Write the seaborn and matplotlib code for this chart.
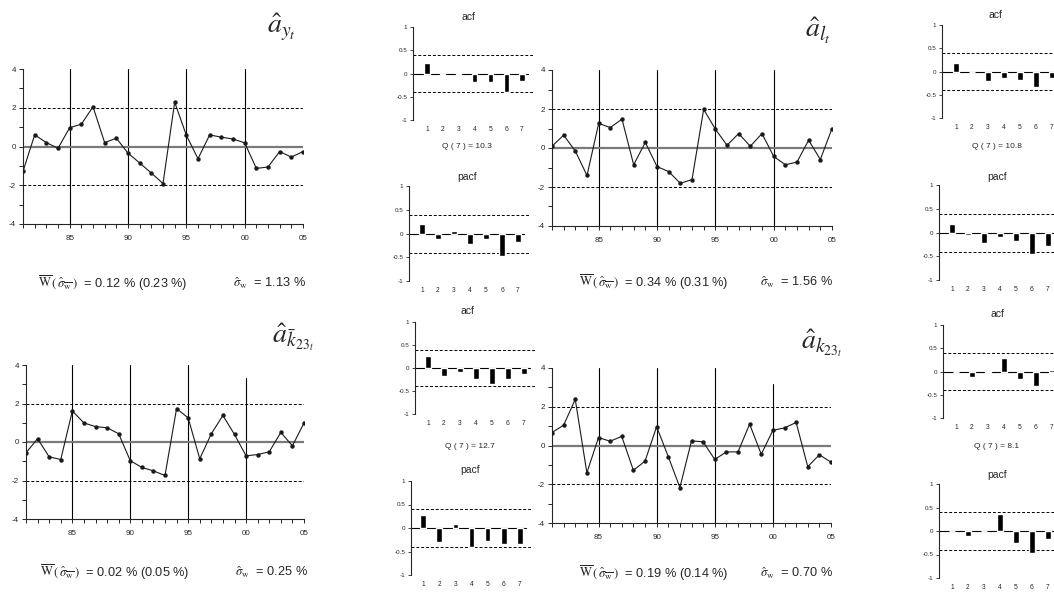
import numpy as np
import pandas as pd
import matplotlib
matplotlib.use("Agg")
import matplotlib.pyplot as plt
import seaborn as sns

# ---- data ----
years = list(range(1981, 2006))

a_y = [-1.28, 0.60, 0.20, -0.09, 0.97, 1.15, 2.05, 0.20, 0.43, -0.34, -0.85, -1.37, -1.91,
       2.29, 0.58, -0.63, 0.60, 0.48, 0.39, 0.19, -1.13, -1.06, -0.26, -0.55, -0.26]
a_l = [0.09, 0.66, -0.16, -1.41, 1.26, 1.05, 1.48, -0.86, 0.29, -0.95, -1.21, -1.81, -1.62,
       1.98, 0.97, 0.14, 0.74, 0.09, 0.74, -0.43, -0.86, -0.72, 0.40, -0.59, 1.00]
a_kbar = [-0.56, 0.17, -0.77, -0.91, 1.61, 0.99, 0.80, 0.74, 0.43, -0.97, -1.32, -1.50, -1.74,
          1.74, 1.25, -0.87, 0.43, 1.38, 0.39, -0.72, -0.65, -0.51, 0.50, -0.20, 0.99]
a_k = [0.67, 1.05, 2.38, -1.41, 0.41, 0.22, 0.47, -1.28, -0.81, 0.97, -0.57, -2.17, 0.24,
       0.19, -0.72, -0.33, -0.33, 1.10, -0.45, 0.78, 0.91, 1.19, -1.09, -0.48, -0.86]

lags = [1, 2, 3, 4, 5, 6, 7]
acf_y = [0.23, -0.03, 0.02, -0.18, -0.18, -0.40, -0.16]
pacf_y = [0.21, -0.11, 0.05, -0.22, -0.12, -0.48, -0.17]
acf_l = [0.18, 0.0, -0.20, -0.15, -0.18, -0.34, -0.14]
pacf_l = [0.17, -0.06, -0.22, -0.10, -0.18, -0.46, -0.29]
acf_kbar = [0.26, -0.17, -0.08, -0.23, -0.35, -0.24, -0.12]
pacf_kbar = [0.28, -0.29, 0.09, -0.41, -0.27, -0.33, -0.33]
acf_k = [0.0, -0.11, 0.02, 0.29, -0.17, -0.31, 0.03]
pacf_k = [0.0, -0.11, 0.0, 0.36, -0.25, -0.46, -0.16]

q_stats = ["Q ( 7 ) = 10.3", "Q ( 7 ) = 10.8", "Q ( 7 ) = 12.7", "Q ( 7 ) = 8.1"]
w_means = ["0.12 % (0.23 %)", "0.34 % (0.31 %)", "0.02 % (0.05 %)", "0.19 % (0.14 %)"]
sigmas = ["1.13 %", "1.56 %", "0.25 %", "0.70 %"]
titles = [r"$\hat{a}_{y_t}$", r"$\hat{a}_{l_t}$",
          r"$\hat{a}_{\bar{k}_{23_t}}$", r"$\hat{a}_{k_{23_t}}$"]

# ---- style ----
sns.set_style("ticks")
plt.rcParams["font.family"] = ["Liberation Sans", "DejaVu Sans"]
plt.rcParams["mathtext.fontset"] = "stix"
plt.rcParams["axes.unicode_minus"] = False

W, H = 1054, 594
fig = plt.figure(figsize=(W / 100, H / 100), dpi=100)


def fx(x):
    return x / W


def fy(y):
    return 1 - y / H


def add_axes_px(left, top, right, bottom):
    return fig.add_axes([fx(left), fy(bottom), (right - left) / W, (bottom - top) / H])


def draw_series(box, vals, top00):
    ax = add_axes_px(*box)
    for yr in [1985, 1990, 1995]:
        ax.plot([yr, yr], [-4, 4], color="black", lw=0.8, zorder=1)
    ax.plot([2000, 2000], [-4, top00], color="black", lw=0.8, zorder=1)
    ax.axhline(0, color="#7a7a7a", lw=1.6, zorder=1)
    for lv in [-2, 2]:
        ax.axhline(lv, color="black", lw=0.7, ls=(0, (3, 2)), zorder=1)
    sns.lineplot(x=years, y=vals, ax=ax, color="#1a1a1a", lw=0.8, marker="o",
                 markersize=3.2, markeredgewidth=0, zorder=3)
    ax.set_xlim(1981, 2005)
    ax.set_ylim(-4, 4)
    ax.set_xticks([1985, 1990, 1995, 2000, 2005])
    ax.set_xticklabels(["85", "90", "95", "00", "05"])
    ax.set_xticks(years, minor=True)
    ax.set_yticks([-4, -2, 0, 2, 4])
    ax.set_yticks([-3, -1, 1, 3], minor=True)
    ax.tick_params(which="both", direction="out", length=3, width=0.7, labelsize=5.8, pad=2)
    ax.tick_params(axis="x", which="major", pad=5)
    sns.despine(ax=ax)
    for s in ["left", "bottom"]:
        ax.spines[s].set_linewidth(0.8)
    ax.set_xlabel("")
    ax.set_ylabel("")
    ax.patch.set_alpha(0)
    return ax


def draw_cf(axis_x, lag1_x, lag7_x, top_y, bot_y, vals):
    step = (lag7_x - lag1_x) / 6
    xmin = 1 - (lag1_x - axis_x) / step
    xmax = 7.7
    right = axis_x + (xmax - xmin) * step
    ax = add_axes_px(axis_x, top_y, right, bot_y)
    sns.barplot(x=lags, y=vals, ax=ax, native_scale=True, color="black",
                saturation=1, width=0.33, errorbar=None, zorder=3)
    ax.plot([xmin, 7.35], [0, 0], color="black", lw=0.8, zorder=2)
    for lv in [-0.4, 0.4]:
        ax.axhline(lv, color="black", lw=0.7, ls=(0, (3, 2)), zorder=1)
    ax.set_xlim(xmin, xmax)
    ax.set_ylim(-1, 1)
    ax.set_yticks([-1, -0.5, 0, 0.5, 1])
    ax.set_yticklabels(["-1", "-0.5", "0", "0.5", "1"])
    ax.set_xticks(lags)
    ax.set_xticklabels([str(v) for v in lags])
    ax.tick_params(axis="y", direction="out", length=2, width=0.6, labelsize=4.5, pad=2)
    ax.tick_params(axis="x", length=0, labelsize=4.8, pad=4)
    sns.despine(ax=ax, bottom=True)
    ax.spines["left"].set_linewidth(0.8)
    ax.set_xlabel("")
    ax.set_ylabel("")
    ax.patch.set_alpha(0)
    return ax


# ---- time series panels ----
series = [a_y, a_l, a_kbar, a_k]
boxes = [(23, 69, 303, 224), (552, 70, 832, 226), (26, 365, 304, 519), (552, 368, 831, 523)]
tops00 = [4, 4, 3.3, 3.15]
for vals, box, t00 in zip(series, boxes, tops00):
    draw_series(box, vals, t00)

# titles above series panels
title_pos = [(281, 27), (818, 31), (293, 337), (822, 343)]
for ttl, (x, y) in zip(titles, title_pos):
    fig.text(fx(x), fy(y), ttl, fontsize=20, ha="center", va="center")

# summary stats under series panels
w_pos = [(38, 283), (579, 282), (40, 572), (579, 573)]
s_pos = [(233, 283), (760, 282), (235, 572), (760, 573)]
for wm, sg, (wx, wy), (sx, sy) in zip(w_means, sigmas, w_pos, s_pos):
    fig.text(fx(wx), fy(wy),
             r"$\overline{\mathrm{W}}\,(\,\hat{\sigma}_{\overline{\mathrm{w}}}\,)$  = " + wm,
             fontsize=9.2, ha="left", va="center")
    fig.text(fx(sx), fy(sy), r"$\hat{\sigma}_{\mathrm{w}}$  = " + sg,
             fontsize=9.2, ha="left", va="center")

# ---- acf / pacf panels ----
cf_specs = [
    (413, 427, 522, 27, 120, acf_y),
    (409, 422, 518, 186, 281, pacf_y),
    (942, 956, 1052, 25, 118, acf_l),
    (939, 952, 1048, 185, 280, pacf_l),
    (415, 428, 524, 322, 414, acf_kbar),
    (411, 423, 520, 481, 575, pacf_kbar),
    (943, 956, 1052, 325, 418, acf_k),
    (939, 952, 1048, 484, 578, pacf_k),
]
for spec in cf_specs:
    draw_cf(*spec)

cf_labels = [("acf", 468, 17), ("pacf", 467, 177), ("acf", 995, 15), ("pacf", 997, 177),
             ("acf", 467, 311), ("pacf", 470, 470), ("acf", 997, 314), ("pacf", 997, 475)]
for lab, x, y in cf_labels:
    fig.text(fx(x), fy(y), lab, fontsize=7.5, ha="center", va="center")

q_pos = [(467, 146), (997, 146), (470, 447), (997, 446)]
for q, (x, y) in zip(q_stats, q_pos):
    fig.text(fx(x), fy(y), q, fontsize=6, ha="center", va="center")

fig.savefig("out.png", dpi=100, facecolor="white")
